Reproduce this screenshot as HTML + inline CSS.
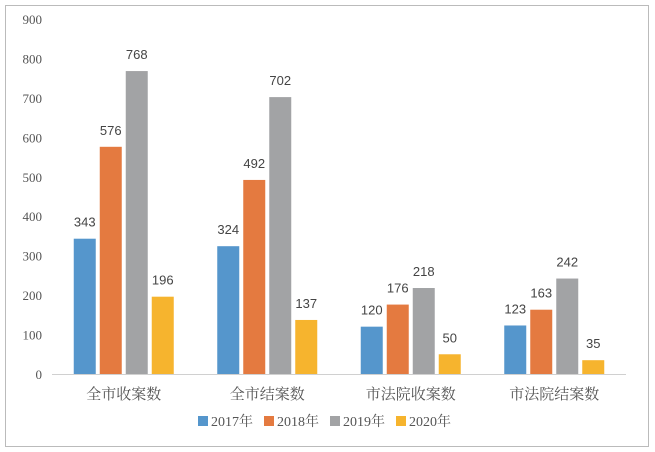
<!DOCTYPE html>
<html><head><meta charset="utf-8"><style>
html,body{margin:0;padding:0;background:#fff;}
svg{display:block;}
</style></head><body>
<svg id="chart" width="655" height="452" xmlns="http://www.w3.org/2000/svg">
<rect x="5.5" y="5.5" width="643" height="441" fill="#fff" stroke="#bbbbbb" stroke-width="1"/>
<g id="yaxis"></g>
<g id="bars"></g>
<g id="xaxis"></g>
<g id="legend"></g>
</svg>
<script>
const categories = ["全市收案数","全市结案数","市法院收案数","市法院结案数"];
const seriesNames = ["2017年","2018年","2019年","2020年"];
const s2017 = [343,324,120,123];
const s2018 = [576,492,176,163];
const s2019 = [768,702,218,242];
const s2020 = [196,137,50,35];
const yTicks = [0,100,200,300,400,500,600,700,800,900];
const colors = ["#5596cc","#e47a40","#a2a3a5","#f6b42e"];
const series = [s2017,s2018,s2019,s2020];
const NS="http://www.w3.org/2000/svg";
const x0=52,x1=626,yBase=374,yTop=19,yMax=900;
const y = v => yBase-(v/yMax)*(yBase-yTop);
const band=(x1-x0)/categories.length;
const bw=22,step=26;
function mk(tag,attrs,parent,text){const e=document.createElementNS(NS,tag);for(const k in attrs)e.setAttribute(k,attrs[k]);if(text!==undefined)e.textContent=text;parent.appendChild(e);return e;}
const serif='"Liberation Serif","Noto Serif CJK SC",serif';
const sans='"Liberation Sans","Noto Sans CJK SC",sans-serif';
const ya=document.getElementById('yaxis');
yTicks.forEach(t=>{const e=mk('text',{x:42,y:y(t)+5,'text-anchor':'end','font-size':13,fill:'#555','font-family':serif},ya,t);

});
const bars=document.getElementById('bars');
categories.forEach((c,i)=>{const cx=x0+band*(i+0.5);
series.forEach((s,j)=>{const bx=cx-2*step+j*step+(step-bw)/2;
const r=mk('rect',{x:bx,y:y(s[i]),width:bw,height:yBase-y(s[i]),fill:colors[j]},bars);


const l=mk('text',{x:bx+bw/2,y:y(s[i])-12,'text-anchor':'middle','font-size':13,fill:'#444','font-family':sans},bars,s[i]);

});});
const xa=document.getElementById('xaxis');
const al=mk('line',{x1:x0,x2:x1,y1:yBase+0.5,y2:yBase+0.5,stroke:'#d0d0d0','stroke-width':1},xa);


categories.forEach((c,i)=>{const e=mk('text',{x:x0+band*(i+0.5),y:399,'text-anchor':'middle','font-size':15,fill:'#555','font-family':serif},xa,c);

});
const lg=document.getElementById('legend');
let lx=198;
seriesNames.forEach((n,j)=>{const g=mk('g',{},lg);


mk('rect',{x:lx,y:416,width:10,height:10,fill:colors[j]},g);
mk('text',{x:lx+13,y:426,'font-size':14,fill:'#555','font-family':serif},g,n);
lx+=66;});
</script>
</body></html>
